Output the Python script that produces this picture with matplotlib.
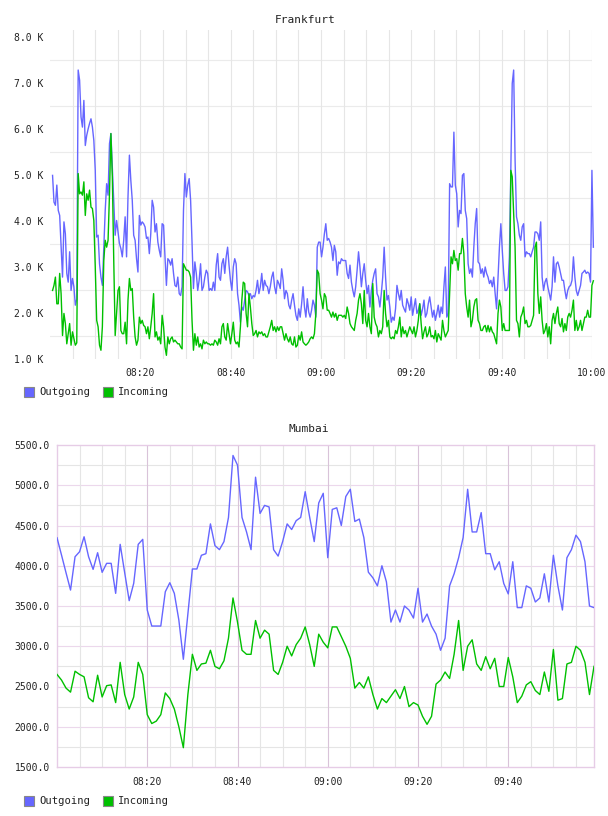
import numpy as np
import pandas as pd
import matplotlib
matplotlib.use("Agg")
import matplotlib.pyplot as plt
import matplotlib.dates as mdates
from matplotlib.patches import Rectangle
from matplotlib.ticker import FixedLocator, FuncFormatter

# ---------------- data ----------------
frankfurt_start = "2024-01-01 08:00:34"
frankfurt_end = "2024-01-01 10:00:18"
# values in K
frankfurt_outgoing = [
    4.99, 4.41, 4.34, 4.78, 4.23, 4.12, 3.43, 2.78, 3.98, 3.72, 2.86, 2.67, 3.33, 2.49, 2.75, 2.57, 2.17, 2.30,
    7.28, 7.06, 6.26, 6.04, 6.62, 5.64, 5.86, 6.00, 6.12, 6.22, 6.04, 5.75, 5.10, 3.65, 3.69, 3.07, 2.78, 2.60,
    3.43, 4.23, 4.81, 4.56, 5.68, 5.90, 5.17,
    4.45, 3.69, 4.01, 3.76, 3.51, 3.40, 3.22, 3.58, 4.09, 3.22, 4.52, 5.43, 4.88, 4.45, 3.69, 3.58, 3.18, 2.89,
    4.12, 3.91, 3.98, 3.94, 3.87, 3.62, 3.65, 3.29, 3.72, 4.45, 4.30, 3.76, 3.94, 3.54, 3.36, 3.22, 3.94, 3.91,
    3.22, 2.60, 3.18, 3.14, 3.04, 3.18, 2.86, 2.60, 2.57, 2.78, 2.42, 2.38, 2.57,
    4.23, 5.03, 4.52, 4.78, 4.92, 4.45, 3.54, 2.53, 3.11, 2.86, 2.49, 2.71, 3.07, 2.49, 2.57, 2.78, 2.93, 2.86,
    2.49, 2.53, 2.49, 2.67, 2.49,
    3.04, 3.29, 2.78, 2.71, 3.07, 3.18, 2.86, 3.22, 3.43, 3.04, 2.71, 2.49, 3.00, 3.18, 3.07, 2.42, 2.17, 1.80,
    2.13, 2.06, 2.28, 2.49, 2.46, 2.38,
    2.42, 2.31, 2.38, 2.35, 2.49, 2.71, 2.42, 2.57, 2.86, 2.49, 2.71, 2.60, 2.57, 2.42, 2.57, 2.78, 2.89, 2.57,
    2.42, 2.71, 2.64, 2.53,
    2.96, 2.71, 2.31, 2.49, 2.42, 2.17, 2.09, 2.28, 2.42, 2.17, 1.95, 1.84, 2.09, 1.91, 2.20, 2.57, 2.13, 1.91,
    2.31, 2.02, 1.91, 2.06, 2.28, 2.17, 1.91, 3.43, 3.54, 3.54,
    3.22, 3.43, 3.72, 3.94, 3.58, 3.62, 3.54, 3.43, 3.14, 3.47,
    3.33, 2.82, 3.11, 3.07, 3.18, 3.14, 3.14, 3.14, 2.86, 2.75,
    3.04, 2.67, 2.49, 2.35, 2.57, 2.93, 3.33, 3.00, 2.57, 2.86,
    3.07, 2.71, 2.42, 2.60, 2.13, 2.49, 2.71, 2.86, 2.96, 2.42,
    2.35, 2.13, 2.42, 2.78, 3.43, 2.78, 2.28, 2.38, 2.13, 1.80,
    1.91, 1.84, 2.09, 2.60, 2.42, 2.28, 2.49, 2.17, 2.09, 2.02,
    2.31, 2.20, 2.06, 2.35, 1.95, 2.13, 2.31, 1.99, 2.06, 2.20,
    1.95, 2.09, 2.28, 1.91, 1.99, 2.20, 2.35, 2.13, 1.91, 2.06,
    1.84, 1.99, 2.17, 1.91, 2.13, 1.99, 2.57, 3.00, 1.91, 1.99,
    4.81, 4.74, 4.74, 5.93, 4.78, 4.59, 3.87, 4.23, 4.16, 4.99,
    5.03, 4.23, 4.05, 3.07, 2.86, 2.96, 2.78, 3.43, 3.94, 4.27,
    3.11, 3.07, 2.86, 2.96, 2.78, 3.00, 2.86, 2.78, 2.64, 2.71,
    2.57, 2.78, 2.42, 2.09, 2.78, 3.43, 3.94, 3.36, 2.86, 2.49,
    2.49, 2.57, 3.22, 5.10, 6.99, 7.28, 5.32, 4.09, 3.94, 3.69,
    3.58, 3.87, 3.94, 3.22, 3.33, 3.29, 3.29, 3.22, 3.33, 3.43,
    3.76, 3.76, 3.72, 3.58, 3.98, 2.78, 2.49, 2.67, 2.75, 2.57,
    2.42, 2.28, 2.57, 3.22, 2.67, 3.07, 3.11, 3.00, 2.86, 2.71,
    2.71, 2.49, 2.31, 2.49, 2.57, 2.60, 2.71, 3.22, 2.78, 2.49,
    2.38, 2.49, 2.60, 2.86, 2.89, 2.93, 2.86, 2.89, 2.86, 2.67,
    5.10, 3.43,
]
frankfurt_incoming = [
    2.49, 2.60, 2.78, 2.20, 2.20, 2.86, 2.42, 1.51, 1.99, 1.77, 1.33, 1.55, 1.77, 1.30, 1.59, 1.44, 1.30, 1.35,
    5.03, 4.59, 4.63, 4.56, 4.85, 4.12, 4.59, 4.45, 4.67, 4.30, 4.27, 4.01, 3.00, 1.84, 1.70, 1.30, 1.19, 1.70,
    3.14, 3.58, 3.43, 3.58, 4.59, 5.90, 4.96,
    3.14, 1.51, 1.99, 2.49, 2.57, 1.62, 1.55, 1.55, 1.80, 1.33, 2.28, 2.75, 2.49, 2.53, 1.91, 1.48, 1.30, 1.41,
    1.91, 1.77, 1.84, 1.73, 1.70, 1.55, 1.70, 1.44, 1.70, 1.99, 2.42, 1.48, 1.59, 1.41, 1.48, 1.33, 1.95, 1.70,
    1.26, 1.08, 1.48, 1.33, 1.44, 1.48, 1.37, 1.41, 1.37, 1.33, 1.33, 1.26, 1.22,
    3.07, 3.00, 2.93, 2.93, 2.89, 2.78, 1.84, 1.19, 1.55, 1.30, 1.48, 1.26, 1.33, 1.22, 1.41, 1.33, 1.37, 1.33,
    1.33, 1.30, 1.33, 1.30, 1.41,
    1.37, 1.30, 1.44, 1.33, 1.70, 1.77, 1.48, 1.41, 1.77, 1.55, 1.33, 1.55, 1.80, 1.41, 1.33, 1.37, 1.26, 1.70,
    2.28, 2.67, 2.64, 1.99, 1.70, 2.42,
    2.13, 1.77, 1.51, 1.55, 1.62, 1.48, 1.59, 1.55, 1.59, 1.51, 1.55, 1.48, 1.48, 1.59, 1.70, 1.84, 1.62, 1.70,
    1.59, 1.70, 1.62, 1.70,
    1.70, 1.55, 1.41, 1.55, 1.44, 1.37, 1.48, 1.33, 1.30, 1.48, 1.26, 1.30, 1.51, 1.41, 1.59, 1.37, 1.33, 1.30,
    1.33, 1.37, 1.44, 1.48, 1.44, 1.55, 1.99, 2.93, 2.86, 2.42,
    2.28, 2.09, 2.42, 2.35, 2.06, 2.06, 1.99, 1.91, 2.02, 1.91,
    1.99, 1.84, 1.95, 1.95, 1.95, 1.91, 1.95, 1.88, 2.13, 1.99,
    1.77, 1.70, 1.66, 1.62, 1.84, 1.99, 2.28, 2.42, 2.20, 1.77,
    2.49, 1.84, 1.70, 1.99, 1.70, 1.55, 2.64, 1.91, 1.77, 1.70,
    1.48, 1.62, 1.55, 1.70, 2.49, 1.99, 1.70, 1.84, 1.48, 1.44,
    1.48, 1.44, 1.62, 1.55, 1.70, 1.91, 1.48, 1.70, 1.55, 1.62,
    1.48, 1.59, 1.70, 1.62, 1.55, 1.70, 1.48, 1.62, 1.84, 2.20,
    1.77, 1.44, 1.59, 1.70, 1.48, 1.55, 1.70, 1.48, 1.51, 1.44,
    1.62, 1.37, 1.55, 1.48, 1.41, 1.84, 1.62, 1.48, 1.55, 1.62,
    2.42, 3.22, 3.07, 3.36, 3.14, 3.18, 2.93, 3.29, 3.29, 3.62,
    3.29, 2.42, 2.13, 1.91, 2.28, 1.70, 1.84, 2.13, 2.28, 2.31,
    1.84, 1.77, 1.62, 1.62, 1.70, 1.73, 1.59, 1.73, 1.59, 1.70,
    1.59, 1.55, 1.44, 1.33, 1.99, 2.28, 2.13, 1.62, 1.77, 1.62,
    1.62, 1.62, 1.62, 5.10, 4.96, 4.16, 3.43, 1.84, 1.77, 1.48,
    1.91, 1.99, 2.13, 1.77, 1.84, 1.70, 1.70, 1.73, 1.84, 1.95,
    3.43, 3.54, 2.42, 1.99, 2.35, 1.84, 1.55, 1.62, 1.77, 1.48,
    1.70, 1.33, 1.84, 1.99, 1.77, 1.99, 2.13, 1.77, 1.70, 1.88,
    1.59, 1.77, 1.62, 1.91, 1.99, 1.91, 2.06, 2.28, 1.62, 1.84,
    1.62, 1.70, 1.84, 1.62, 1.77, 1.91, 1.91, 2.06, 1.91, 1.91,
    2.60, 2.70,
]

mumbai_start = "2024-01-01 08:00:00"
mumbai_step_min = 1
mumbai_outgoing = [
    4348, 4133, 3913, 3698, 4112, 4174, 4360, 4112, 3955, 4162,
    3918, 4030, 4030, 3657, 4266, 3913, 3566, 3782, 4266, 4328,
    3450, 3251, 3251, 3251, 3677, 3789, 3657, 3326, 2838, 3400,
    3960, 3960, 4130, 4150, 4520, 4250, 4200, 4300, 4600, 5370,
    5250, 4600, 4420, 4200, 5100, 4650, 4750, 4730, 4200, 4120,
    4300, 4520, 4450, 4560, 4600, 4920, 4600, 4300, 4780, 4900,
    4100, 4700, 4720, 4500, 4860, 4950, 4550, 4580, 4350, 3920,
    3850, 3750, 4000, 3800, 3300, 3450, 3300, 3500, 3450, 3350,
    3720, 3300, 3400, 3250, 3150, 2950, 3100, 3750, 3900, 4100,
    4350, 4950, 4420, 4420, 4660, 4150, 4150, 3950, 4050, 3780,
    3650, 4050, 3480, 3480, 3750, 3720, 3550, 3600, 3900, 3550,
    4130, 3750, 3450, 4100, 4200, 4380, 4300, 4050, 3500, 3480,
]
mumbai_incoming = [
    2650, 2580, 2480, 2430, 2690, 2650, 2620, 2360, 2310, 2640,
    2370, 2510, 2520, 2300, 2800, 2400, 2220, 2370, 2800, 2650,
    2150, 2040, 2070, 2150, 2420, 2350, 2220, 2000, 1740, 2400,
    2900, 2700, 2780, 2790, 2950, 2750, 2720, 2820, 3100, 3600,
    3300, 2950, 2900, 2900, 3320, 3100, 3200, 3150, 2700, 2650,
    2800, 3000, 2880, 3020, 3100, 3240, 3020, 2750, 3150, 3050,
    2980, 3240, 3240, 3120, 3000, 2850, 2480, 2550, 2480, 2620,
    2400, 2220, 2350, 2300, 2380, 2460, 2350, 2500, 2250, 2300,
    2270, 2130, 2030, 2130, 2530, 2580, 2680, 2600, 2900, 3320,
    2700, 3000, 3080, 2780, 2700, 2870, 2720, 2850, 2500, 2500,
    2860, 2620, 2300, 2380, 2520, 2560, 2450, 2400, 2680, 2440,
    2960, 2330, 2350, 2780, 2800, 3000, 2950, 2800, 2400, 2750,
]
series_labels = ["Outgoing", "Incoming"]
titles = ["Frankfurt", "Mumbai"]

# ---------------- style ----------------
BLUE = "#6666ff"
GREEN = "#00c000"
TXT = "#222222"
MONO = ["DejaVu Sans Mono"]
W, H = 608, 816
fig = plt.figure(figsize=(W / 100, H / 100), dpi=100)


def ax_rect(l, t, r, b):
    return [l / W, 1 - b / H, (r - l) / W, (b - t) / H]


def legend(y):
    for i, (lab, col) in enumerate(zip(series_labels, [BLUE, GREEN])):
        x0 = 24 + i * 79
        fig.patches.append(Rectangle((x0 / W, 1 - (y + 5) / H), 10 / W, 10 / H,
                                     transform=fig.transFigure, facecolor=col,
                                     edgecolor="#888888", lw=0.8))
        fig.text((x0 + 15) / W, 1 - y / H, lab, ha="left", va="center",
                 fontsize=7.6, family=MONO, color=TXT)


def hhmm(v, p):
    s = mdates.num2date(v).strftime("%H:%M")
    return "" if s == "08:00" else s


t0 = pd.Timestamp("2024-01-01 08:00:00")
t_end = pd.Timestamp("2024-01-01 10:00:00")
grid_times = pd.date_range("2024-01-01 08:05:00", t_end, freq="5min")

# ---------------- Frankfurt ----------------
assert len(frankfurt_outgoing) == len(frankfurt_incoming)
f_times = pd.date_range(frankfurt_start, frankfurt_end, periods=len(frankfurt_outgoing))
ax1 = fig.add_axes(ax_rect(50, 30, 592, 359))
ax1.plot(f_times, frankfurt_outgoing, color=BLUE, lw=1.0, zorder=3, clip_on=False)
ax1.plot(f_times, frankfurt_incoming, color=GREEN, lw=1.0, zorder=3, clip_on=False)
ax1.set_xlim(t0, t_end)
ax1.set_ylim(1.0, 8.15)
for s in ax1.spines.values():
    s.set_visible(False)
ax1.set_yticks(np.arange(1, 9))
ax1.yaxis.set_major_formatter(FuncFormatter(lambda v, p: f"{v:.1f} K"))
ax1.xaxis.set_major_locator(mdates.MinuteLocator(byminute=[0, 20, 40]))
ax1.xaxis.set_major_formatter(FuncFormatter(hhmm))
for yv in np.arange(1.5, 8.0, 1.0):
    ax1.axhline(yv, color="#ebebeb", lw=0.8, zorder=0)
for tv in grid_times:
    ax1.axvline(tv, color="#e6e6e6", lw=0.8, zorder=0)
ax1.tick_params(which="both", length=0)
ax1.tick_params(axis="y", pad=5, labelsize=7, labelcolor=TXT)
ax1.tick_params(axis="x", pad=6.5, labelsize=7, labelcolor=TXT)
for lab in ax1.get_xticklabels() + ax1.get_yticklabels():
    lab.set_family(MONO)
fig.text(305 / W, 1 - 20 / H, titles[0], ha="center", va="center", fontsize=8, family=MONO, color=TXT)
legend(392)

# ---------------- Mumbai ----------------
assert len(mumbai_outgoing) == len(mumbai_incoming)
m_times = pd.date_range(mumbai_start, periods=len(mumbai_outgoing), freq=f"{mumbai_step_min}min")
ax2 = fig.add_axes(ax_rect(57, 445, 594, 767))
ax2.plot(m_times, mumbai_outgoing, color=BLUE, lw=1.0, zorder=3)
ax2.plot(m_times, mumbai_incoming, color=GREEN, lw=1.0, zorder=3)
ax2.set_xlim(t0, m_times[-1])
ax2.set_ylim(1500, 5500)
for s in ax2.spines.values():
    s.set_color("#e6cce6")
    s.set_linewidth(1.0)
ax2.set_yticks(np.arange(1500, 5501, 500))
ax2.yaxis.set_major_formatter(FuncFormatter(lambda v, p: f"{v:.1f}"))
ax2.xaxis.set_major_locator(mdates.MinuteLocator(byminute=[0, 20, 40]))
ax2.xaxis.set_major_formatter(FuncFormatter(hhmm))
for yv in np.arange(1750, 5500, 500):
    ax2.axhline(yv, color="#e5e5e5", lw=0.8, zorder=0)
for yv in np.arange(2000, 5500, 500):
    ax2.axhline(yv, color="#ecd8ec", lw=0.8, zorder=0)
for tv in grid_times:
    major = tv.minute % 20 == 0
    ax2.axvline(tv, color="#d9c3d9" if major else "#e5e5e5", lw=0.8, zorder=0)
ax2.tick_params(which="both", length=0)
ax2.tick_params(axis="y", pad=5, labelsize=7, labelcolor=TXT)
ax2.tick_params(axis="x", pad=7, labelsize=7, labelcolor=TXT)
for lab in ax2.get_xticklabels() + ax2.get_yticklabels():
    lab.set_family(MONO)
fig.text(309 / W, 1 - 429 / H, titles[1], ha="center", va="center", fontsize=8, family=MONO, color=TXT)
legend(801)

fig.savefig("out.png", dpi=100, facecolor="white")
